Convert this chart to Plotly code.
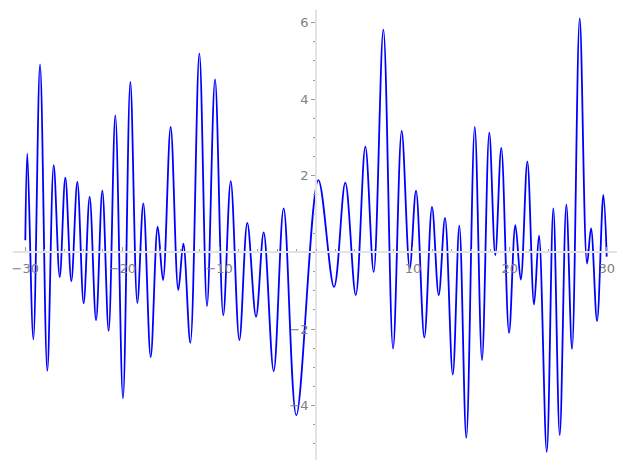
import plotly.graph_objects as go

# Extrema of the curve
x_vals = [-30.0, -29.79, -29.17, -28.48, -27.73, -27.07, -26.45, -25.87, -25.25, -24.63,
          -23.98, -23.36, -22.70, -22.05, -21.40, -20.71, -19.92, -19.16, -18.44, -17.82,
          -17.06, -16.34, -15.79, -15.0, -14.21, -13.69, -12.97, -12.04, -11.25, -10.42,
          -9.57, -8.80, -7.91, -7.09, -6.19, -5.40, -4.37, -3.34, -2.03, 0.24,
          1.86, 3.02, 4.10, 5.09, 5.95, 6.95, 7.95, 8.84, 9.67, 10.32,
          11.18, 11.97, 12.66, 13.31, 14.11, 14.79, 15.51, 16.38, 17.13, 17.88,
          18.50, 19.12, 19.92, 20.57, 21.13, 21.81, 22.50, 23.01, 23.81, 24.49,
          25.15, 25.83, 26.42, 27.21, 27.97, 28.38, 29.00, 29.65, 30.0]
y_vals = [0.32, 2.58, -2.27, 4.91, -3.09, 2.28, -0.64, 1.95, -0.75, 1.84,
          -1.33, 1.45, -1.77, 1.61, -2.05, 3.58, -3.81, 4.45, -1.32, 1.28,
          -2.73, 0.67, -0.72, 3.28, -0.98, 0.23, -2.36, 5.20, -1.40, 4.52,
          -1.64, 1.86, -2.29, 0.77, -1.68, 0.52, -3.10, 1.15, -4.25, 1.89,
          -0.90, 1.82, -1.11, 2.76, -0.51, 5.82, -2.51, 3.17, -0.42, 1.61,
          -2.22, 1.19, -1.12, 0.90, -3.19, 0.70, -4.84, 3.28, -2.81, 3.13,
          -0.07, 2.73, -2.10, 0.71, -0.71, 2.37, -1.36, 0.44, -5.21, 1.15,
          -4.77, 1.25, -2.52, 6.11, -0.29, 0.63, -1.79, 1.50, -0.11]

x_ticks = [-30, -20, -10, 10, 20, 30]
x_ticklabels = ["\u221230", "\u221220", "\u221210", "10", "20", "30"]
y_ticks = [-4, -2, 2, 4, 6]
y_ticklabels = ["\u22124", "\u22122", "2", "4", "6"]

x_range = [-31.27, 31.06]
y_range = [-5.42, 6.33]

fig = go.Figure()
fig.add_trace(go.Scatter(x=x_vals, y=y_vals, mode="lines",
                         line=dict(color="#0000ff", width=1.8, shape="spline", smoothing=1.0),
                         showlegend=False, hoverinfo="skip"))

xpos = (0 - y_range[0]) / (y_range[1] - y_range[0])
ypos = (0 - x_range[0]) / (x_range[1] - x_range[0])

axis_font = dict(family="DejaVu Sans", size=13, color="#808080")
fig.update_layout(
    width=611, height=454,
    margin=dict(l=5, r=2, t=2, b=2),
    plot_bgcolor="white", paper_bgcolor="white",
    xaxis=dict(range=x_range, anchor="free", position=xpos, showgrid=False, zeroline=False,
               automargin=False,
               showline=True, linecolor="#e3e3e3", linewidth=2,
               tickvals=x_ticks, ticktext=x_ticklabels, ticks="inside", ticklen=4,
               ticklabelstandoff=4,
               tickcolor="#9a9a9a", tickwidth=1, tickfont=axis_font,
               minor=dict(dtick=2, tick0=0, ticks="inside", ticklen=2, tickcolor="#9a9a9a")),
    yaxis=dict(range=y_range, anchor="free", position=ypos, showgrid=False, zeroline=False,
               automargin=False,
               showline=True, linecolor="#e3e3e3", linewidth=2,
               tickvals=y_ticks, ticktext=y_ticklabels, ticks="outside", ticklen=4,
               tickcolor="#9a9a9a", tickwidth=1, tickfont=axis_font,
               minor=dict(dtick=0.5, tick0=0, ticks="outside", ticklen=2, tickcolor="#9a9a9a")),
)

fig.write_html("out.html")
